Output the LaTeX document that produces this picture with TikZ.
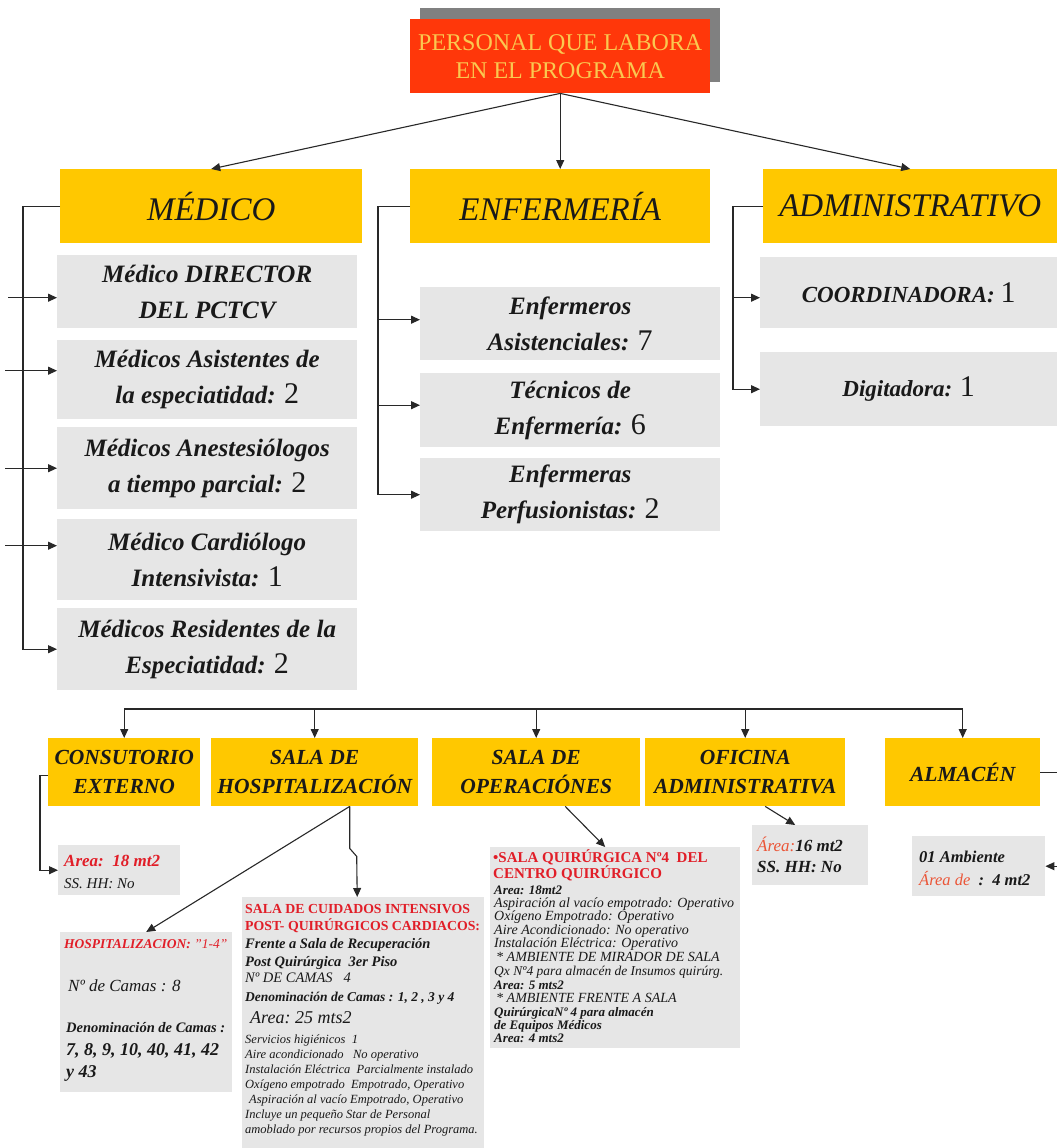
\documentclass[tikz,border=0pt]{standalone}
\usepackage{fontspec}
\setmainfont{Liberation Serif}
\usetikzlibrary{arrows.meta}
\definecolor{yboxc}{RGB}{255,200,0}
\definecolor{gboxc}{RGB}{230,230,230}
\definecolor{tred}{RGB}{255,55,10}
\definecolor{ttext}{RGB}{250,200,80}
\definecolor{shadowgray}{RGB}{128,128,128}
\definecolor{rtext}{RGB}{225,30,40}
\definecolor{otext}{RGB}{235,85,55}
\definecolor{ink}{RGB}{25,25,25}
\definecolor{linec}{RGB}{40,40,40}
\newcommand{\fsz}[2]{\fontsize{#1}{#2}\selectfont}
\begin{document}
\begin{tikzpicture}[x=1pt,y=-1pt,
  ybox/.style={fill=yboxc, inner sep=0pt, align=center, text=ink, anchor=north west},
  gbx/.style={fill=gboxc, inner sep=0pt, align=center, text=ink, anchor=north west},
  topfont/.style={font={\fsz{33}{38}\itshape}},
  midfont/.style={font={\fsz{25}{36}\bfseries\itshape}},
  lowfont/.style={font={\fsz{21.5}{29}\bfseries\itshape}},
  conn/.style={draw=linec, line width=1.1pt},
  arr/.style={conn, -{Triangle[length=9pt,width=8pt]}},
  ln/.style={anchor=base west, inner sep=0pt, text=ink}
]
\useasboundingbox (0,0) rectangle (1057,1148);
\fill[white] (0,0) rectangle (1057,1148);

% title
\fill[shadowgray] (420,8) rectangle (720,82);
\node[fill=tred, inner sep=0pt, align=center, anchor=north west, minimum width=300pt, minimum height=74pt,
  text=ttext, font={\fsz{24}{28}}] (title) at (410,19) {PERSONAL QUE LABORA\\EN EL PROGRAMA};

% top categories
\node[ybox, topfont, minimum width=302pt, minimum height=74pt] (medico) at (60,169) {MÉDICO};
\node[ybox, topfont, minimum width=300pt, minimum height=74pt] (enf) at (410,169) {ENFERMERÍA};
\node[ybox, topfont, minimum width=294pt, minimum height=74pt] (adm) at (763,169) {ADMINISTRATIVO};

\draw[arr] (title.south) -- (medico.north);
\draw[arr] (title.south) -- (enf.north);
\draw[arr] (title.south) -- (adm.north);

% medico column
\node[gbx, midfont, minimum width=300pt, minimum height=73pt] (m1) at (57,255) {Médico DIRECTOR\\DEL PCTCV};
\node[gbx, midfont, minimum width=300pt, minimum height=79pt] (m2) at (57,340) {Médicos Asistentes de\\la especiatidad: {\mdseries\upshape\fsz{30}{36}2}};
\node[gbx, midfont, minimum width=300pt, minimum height=82pt] (m3) at (57,427) {Médicos Anestesiólogos\\a tiempo parcial: {\mdseries\upshape\fsz{30}{36}2}};
\node[gbx, midfont, minimum width=300pt, minimum height=81pt] (m4) at (57,519) {Médico Cardiólogo\\Intensivista: {\mdseries\upshape\fsz{30}{36}1}};
\node[gbx, midfont, minimum width=300pt, minimum height=82pt] (m5) at (57,608) {Médicos Residentes de la\\Especiatidad: {\mdseries\upshape\fsz{30}{36}2}};

\draw[arr] (medico.west) -- ++(-37,0) |- (m5.west);
\draw[arr] ([xshift=-49pt,yshift=-6pt]m1.west) -- ([yshift=-6pt]m1.west);
\draw[arr] ([xshift=-52pt,yshift=9pt]m2.west) -- ([yshift=9pt]m2.west);
\draw[arr] ([xshift=-52pt]m3.west) -- (m3.west);
\draw[arr] ([xshift=-52pt,yshift=14pt]m4.west) -- ([yshift=14pt]m4.west);

% enfermeria column
\node[gbx, midfont, minimum width=300pt, minimum height=73pt] (e1) at (420,287) {Enfermeros\\Asistenciales: {\mdseries\upshape\fsz{30}{36}7}};
\node[gbx, midfont, minimum width=300pt, minimum height=74pt] (e2) at (420,373) {Técnicos de\\Enfermería: {\mdseries\upshape\fsz{30}{36}6}};
\node[gbx, midfont, minimum width=300pt, minimum height=73pt] (e3) at (420,458) {Enfermeras\\Perfusionistas: {\mdseries\upshape\fsz{30}{36}2}};

\draw[arr] (enf.west) -- ++(-32,0) |- (e3.west);
\draw[arr] ([xshift=-42pt,yshift=4pt]e1.west) -- ([yshift=4pt]e1.west);
\draw[arr] ([xshift=-42pt,yshift=5pt]e2.west) -- ([yshift=5pt]e2.west);

% administrativo column
\node[gbx, font={\fsz{23}{30}\bfseries\itshape}, minimum width=297pt, minimum height=71pt] (a1) at (760,257) {COORDINADORA: {\mdseries\upshape\fsz{30}{36}1}};
\node[gbx, font={\fsz{23}{30}\bfseries\itshape}, minimum width=297pt, minimum height=74pt] (a2) at (760,352) {Digitadora: {\mdseries\upshape\fsz{30}{36}1}};

\draw[arr] (adm.west) -- ++(-30,0) |- (a2.west);
\draw[arr] ([xshift=-27pt,yshift=-5pt]a1.west) -- ([yshift=-5pt]a1.west);

% lower row
\node[ybox, lowfont, minimum width=152pt, minimum height=68pt] (cons) at (48,738) {CONSUTORIO\\EXTERNO};
\node[ybox, lowfont, minimum width=207pt, minimum height=68pt] (hosp) at (211,738) {SALA DE\\HOSPITALIZACIÓN};
\node[ybox, lowfont, minimum width=208pt, minimum height=68pt] (op) at (432,738) {SALA DE\\OPERACIÓNES};
\node[ybox, lowfont, minimum width=200pt, minimum height=68pt] (ofi) at (645,738) {OFICINA\\ADMINISTRATIVA};
\node[ybox, lowfont, minimum width=155pt, minimum height=68pt] (alm) at (885,738) {ALMACÉN};

\coordinate (bus) at (0,709);
\draw[conn] (cons.north |- bus) -- (alm.north |- bus);
\foreach \n in {cons,hosp,op,ofi,alm} \draw[arr] (\n.north |- bus) -- (\n.north);

% info boxes
\node[gbx, minimum width=122pt, minimum height=50pt] (consinfo) at (58,845) {};
\node[ln, text=rtext, font={\fsz{17}{18}\bfseries\itshape}] (ct1) at (64,866) {Area:\ \ 18 mt2};
\node[ln, font={\fsz{15}{16}\itshape}] (ct2) at (64,888) {SS. HH: No};

\node[gbx, minimum width=172pt, minimum height=160pt] (hospinfo) at (60,932) {};
\node[ln, text=rtext, font={\fsz{13.5}{14}\bfseries\itshape}] (ht1) at (64,948) {HOSPITALIZACION: {\mdseries"1-4"}};
\node[ln, font={\fsz{17}{18}\itshape}] (ht2) at (68,991) {Nº de Camas : 8};
\node[ln, font={\fsz{14.5}{14}\bfseries\itshape}] (ht3) at (66,1032) {Denominación de Camas :};
\node[ln, font={\fsz{18}{18}\bfseries\itshape}] (ht4) at (66,1055) {7, 8, 9, 10, 40, 41, 42};
\node[ln, font={\fsz{18}{18}\bfseries\itshape}] (ht5) at (66,1077) {y 43};

\node[gbx, minimum width=242pt, minimum height=251pt] (cuid) at (242,897) {};
\node[ln, text=rtext, font={\fsz{13.8}{15}\bfseries}] (s1) at (245,913) {SALA DE CUIDADOS INTENSIVOS};
\node[ln, text=rtext, font={\fsz{13.8}{15}\bfseries}] (s2) at (245,930) {POST- QUIRÚRGICOS CARDIACOS:};
\node[ln, font={\fsz{14.5}{15}\bfseries\itshape}] (s3) at (245,948) {Frente a Sala de Recuperación};
\node[ln, font={\fsz{14.5}{15}\bfseries\itshape}] (s4) at (245,966) {Post Quirúrgica\ \ 3er Piso};
\node[ln, font={\fsz{14.5}{15}\itshape}] (s5) at (245,982) {Nº DE CAMAS\ \ \ 4};
\node[ln, font={\fsz{13.5}{15}\bfseries\itshape}] (s6) at (245,1001) {Denominación de Camas : 1, 2 , 3 y 4};
\node[ln, font={\fsz{18}{19}\itshape}] (s7) at (250,1023) {Area:\ 25 mts2};
\node[ln, font={\fsz{12.5}{13}\itshape}] (s8) at (245,1043) {Servicios higiénicos\ \ 1};
\node[ln, font={\fsz{12.5}{13}\itshape}] (s9) at (245,1058) {Aire acondicionado\ \ \ No operativo};
\node[ln, font={\fsz{12.5}{13}\itshape}] (s10) at (245,1073) {Instalación Eléctrica\ \ Parcialmente instalado};
\node[ln, font={\fsz{12.5}{13}\itshape}] (s11) at (245,1088) {Oxígeno empotrado\ \ Empotrado, Operativo};
\node[ln, font={\fsz{12.5}{13}\itshape}] (s12) at (249,1103) {Aspiración al vacío Empotrado, Operativo};
\node[ln, font={\fsz{12.5}{13}\itshape}] (s13) at (245,1118) {Incluye un pequeño Star de Personal};
\node[ln, font={\fsz{12.5}{13}\itshape}] (s14) at (245,1133) {amoblado por recursos propios del Programa.};

\node[gbx, minimum width=250pt, minimum height=201pt] (quir) at (490,847) {};
\node[ln, text=rtext, font={\fsz{15}{16}\bfseries}] (q1) at (493,862) {•SALA QUIRÚRGICA Nº4\ \ DEL};
\node[ln, text=rtext, font={\fsz{15}{16}\bfseries}] (q2) at (493,878) {CENTRO QUIRÚRGICO};
\node[ln, font={\fsz{13}{14}\bfseries\itshape}] (q3) at (494,894) {Area: 18mt2};
\node[ln, font={\fsz{14}{14}\itshape}] (q4) at (494,907) {Aspiración al vacío empotrado: Operativo};
\node[ln, font={\fsz{14}{14}\itshape}] (q5) at (494,920) {Oxígeno Empotrado: Operativo};
\node[ln, font={\fsz{14}{14}\itshape}] (q6) at (494,934) {Aire Acondicionado: No operativo};
\node[ln, font={\fsz{14}{14}\itshape}] (q7) at (494,947) {Instalación Eléctrica: Operativo};
\node[ln, font={\fsz{14}{14}\itshape}] (q8) at (496,961) {* AMBIENTE DE MIRADOR DE SALA};
\node[ln, font={\fsz{13.5}{14}\itshape}] (q9) at (494,975) {Qx Nº4 para almacén de Insumos quirúrg.};
\node[ln, font={\fsz{13}{14}\bfseries\itshape}] (q10) at (494,989) {Area: 5 mts2};
\node[ln, font={\fsz{14}{14}\itshape}] (q11) at (496,1002) {* AMBIENTE FRENTE A SALA};
\node[ln, font={\fsz{13}{14}\bfseries\itshape}] (q12) at (494,1016) {QuirúrgicaNº 4 para almacén};
\node[ln, font={\fsz{13}{14}\bfseries\itshape}] (q13) at (494,1029) {de Equipos Médicos};
\node[ln, font={\fsz{13}{14}\bfseries\itshape}] (q14) at (494,1042) {Area: 4 mts2};

\node[gbx, minimum width=116pt, minimum height=60pt] (ofiinfo) at (752,825) {};
\node[ln, font={\fsz{17}{17}\bfseries\itshape}] (o1) at (757,851) {{\mdseries\color{otext}Área:}16 mt2};
\node[ln, font={\fsz{17}{17}\bfseries\itshape}] (o2) at (757,872) {SS. HH: No};

\node[gbx, minimum width=133pt, minimum height=60pt] (alminfo) at (912,836) {};
\node[ln, font={\fsz{16.5}{16}\bfseries\itshape}] (l1) at (919,862) {01 Ambiente};
\node[ln, font={\fsz{16.5}{16}\bfseries\itshape}] (l2) at (919,885) {{\mdseries\color{otext}Área de}\ \ :\ \ 4 mt2};

% lower connectors
\draw[arr] ([yshift=-3pt]cons.west) -- ++(-8,0) |- (consinfo.west);
\coordinate (hout) at ([xshift=35pt]hosp.south);
\draw[arr] (hout) -- (hospinfo.north);
\draw[arr] (hout) -- ++(0,42) -- ++(7,8) -- ([xshift=-6pt]cuid.north);
\draw[arr] ([xshift=29pt]op.south) -- ([xshift=-10pt]quir.north);
\draw[arr] ([xshift=20pt]ofi.south) -- ([xshift=-15pt]ofiinfo.north);
\draw[arr] (alm.east) -- ++(24,0) |- (alminfo.east);
\end{tikzpicture}
\end{document}
